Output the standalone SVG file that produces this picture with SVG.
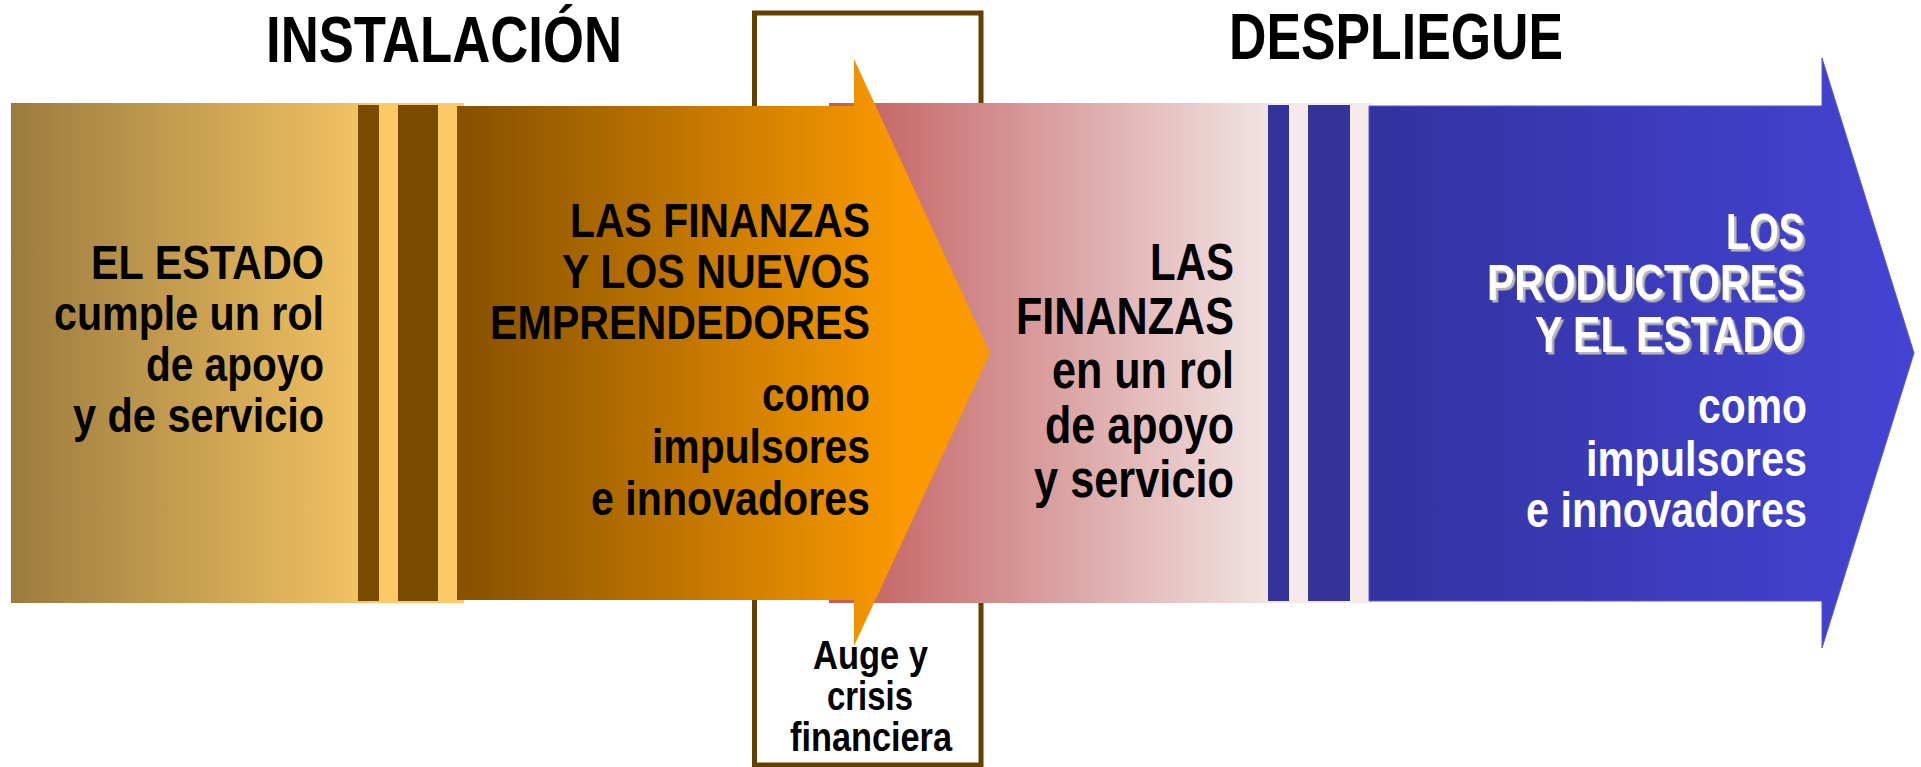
<svg xmlns="http://www.w3.org/2000/svg" width="1921" height="767" viewBox="0 0 1921 767">
<defs>
<linearGradient id="gTan" gradientUnits="userSpaceOnUse" x1="11" y1="0" x2="464" y2="0">
<stop offset="0" stop-color="#9B7B3E"/>
<stop offset="0.76" stop-color="#F1C162"/>
<stop offset="0.8" stop-color="#FDC966"/>
<stop offset="1" stop-color="#FDC966"/>
</linearGradient>
<linearGradient id="gOrange" gradientUnits="userSpaceOnUse" x1="457" y1="0" x2="900" y2="0">
<stop offset="0" stop-color="#865000"/>
<stop offset="1" stop-color="#FA9900"/>
</linearGradient>
<linearGradient id="gPink" gradientUnits="userSpaceOnUse" x1="829" y1="0" x2="1372" y2="0">
<stop offset="0" stop-color="#C15A5A"/>
<stop offset="0.81" stop-color="#F2E3E3"/>
<stop offset="0.82" stop-color="#F5E9E9"/>
<stop offset="1" stop-color="#F6EBEB"/>
</linearGradient>
<linearGradient id="gBlue" gradientUnits="userSpaceOnUse" x1="1369" y1="0" x2="1914" y2="0">
<stop offset="0" stop-color="#3232A0"/>
<stop offset="1" stop-color="#4444D4"/>
</linearGradient>
<filter id="shadow" x="-5%" y="-20%" width="115%" height="150%">
<feDropShadow dx="2.5" dy="2.5" stdDeviation="0.3" flood-color="#B8B8B8" flood-opacity="1"/>
</filter>
</defs>
<style>
text{font-family:"Liberation Sans Narrow","Liberation Sans",Arial,sans-serif;font-weight:bold;}
.t{font-size:65px;fill:#000;text-anchor:middle;}
.l{font-size:48px;fill:#000;text-anchor:end;}
.m{font-size:49px;fill:#000;text-anchor:end;}
.p{font-size:51px;fill:#000;text-anchor:end;}
.b{font-size:50px;fill:#fff;text-anchor:end;}
.x{font-size:40px;fill:#000;text-anchor:middle;}
.dk{fill:#7A4A00;}
.bl{fill:#333399;}
</style>

<g id="title-instalacion"><text class="t" x="444" y="62" textLength="356" lengthAdjust="spacingAndGlyphs">INSTALACIÓN</text></g>
<g id="title-despliegue"><text class="t" x="1396" y="59" textLength="334" lengthAdjust="spacingAndGlyphs">DESPLIEGUE</text></g>

<g id="crisis-box">
<rect x="754.5" y="13" width="226.5" height="752" fill="#fff" stroke="#633F00" stroke-width="5"/>
<text class="x" x="870.5" y="669" textLength="115" lengthAdjust="spacingAndGlyphs">Auge y</text>
<text class="x" x="870" y="710" textLength="86" lengthAdjust="spacingAndGlyphs">crisis</text>
<text class="x" x="871" y="751" textLength="162" lengthAdjust="spacingAndGlyphs">financiera</text>
</g>

<g id="estado-block">
<rect x="11" y="103" width="453" height="500" fill="url(#gTan)"/>
<rect class="dk" x="358" y="105" width="21" height="496"/>
<rect class="dk" x="398" y="105" width="40" height="496"/>
<text class="l" x="324" y="279" textLength="233" lengthAdjust="spacingAndGlyphs">EL ESTADO</text>
<text class="l" x="324" y="330" textLength="270" lengthAdjust="spacingAndGlyphs">cumple un rol</text>
<text class="l" x="324" y="381" textLength="178" lengthAdjust="spacingAndGlyphs">de apoyo</text>
<text class="l" x="324" y="432" textLength="251" lengthAdjust="spacingAndGlyphs">y de servicio</text>
</g>

<g id="finanzas-rol-block">
<rect x="829" y="103" width="543" height="500" fill="url(#gPink)"/>
<rect class="bl" x="1268" y="105" width="21" height="496"/>
<rect class="bl" x="1308" y="105" width="42" height="496"/>
<text class="p" x="1234" y="280" textLength="84" lengthAdjust="spacingAndGlyphs">LAS</text>
<text class="p" x="1234" y="334" textLength="218" lengthAdjust="spacingAndGlyphs">FINANZAS</text>
<text class="p" x="1234" y="388" textLength="182" lengthAdjust="spacingAndGlyphs">en un rol</text>
<text class="p" x="1234" y="443" textLength="189" lengthAdjust="spacingAndGlyphs">de apoyo</text>
<text class="p" x="1234" y="497" textLength="200" lengthAdjust="spacingAndGlyphs">y servicio</text>
</g>

<g id="finanzas-emprendedores-arrow">
<polygon points="457,106 854,106 854,59 990,353 854,646 854,600 457,600" fill="url(#gOrange)"/>
<text class="m" x="870" y="237" textLength="300" lengthAdjust="spacingAndGlyphs">LAS FINANZAS</text>
<text class="m" x="870" y="288" textLength="308" lengthAdjust="spacingAndGlyphs">Y LOS NUEVOS</text>
<text class="m" x="870" y="339" textLength="380" lengthAdjust="spacingAndGlyphs">EMPRENDEDORES</text>
<text class="m" x="870" y="411" textLength="108" lengthAdjust="spacingAndGlyphs">como</text>
<text class="m" x="870" y="463" textLength="218" lengthAdjust="spacingAndGlyphs">impulsores</text>
<text class="m" x="870" y="515" textLength="279" lengthAdjust="spacingAndGlyphs">e innovadores</text>
</g>

<g id="productores-arrow">
<polygon points="1369,106 1822,106 1822,58 1914,353 1822,648 1822,601 1369,601" fill="url(#gBlue)" stroke="#5A5AC8" stroke-width="1"/>
<g filter="url(#shadow)">
<text class="b" x="1804" y="249" textLength="78" lengthAdjust="spacingAndGlyphs">LOS</text>
<text class="b" x="1804" y="300" textLength="317" lengthAdjust="spacingAndGlyphs">PRODUCTORES</text>
<text class="b" x="1804" y="352" textLength="269" lengthAdjust="spacingAndGlyphs">Y EL ESTADO</text>
</g>
<text class="b" x="1807" y="423" textLength="109" lengthAdjust="spacingAndGlyphs">como</text>
<text class="b" x="1807" y="476" textLength="221" lengthAdjust="spacingAndGlyphs">impulsores</text>
<text class="b" x="1807" y="527" textLength="281" lengthAdjust="spacingAndGlyphs">e innovadores</text>
</g>
</svg>
